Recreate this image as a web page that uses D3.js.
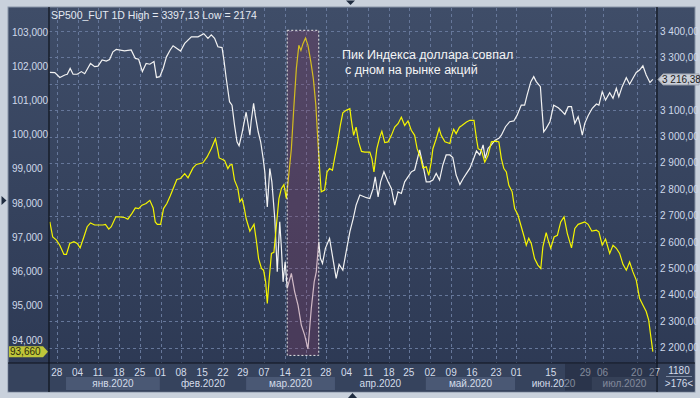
<!DOCTYPE html>
<html>
<head>
<meta charset="utf-8">
<script src="https://cdn.jsdelivr.net/npm/d3@7"></script>
<style>
html, body { margin: 0; padding: 0; background: #c9d1dc; }
svg { display: block; font-family: "Liberation Sans", Arial, sans-serif; }
</style>
</head>
<body>
<svg id="chart" width="700" height="398"></svg>
<script>
// ---- data (x = session index on the bar axis) ----
const spxBars = [0.2,1.4,2.6,3.8,4.4,5.1,5.8,6.8,7.8,8.6,10.0,11.0,11.8,12.8,13.8,14.6,15.4,16.2,18.2,19.8,20.8,21.6,22.5,23.4,24.3,25.3,25.9,26.7,27.5,28.3,29.2,29.9,31.7,32.7,34.3,35.9,37.3,38.3,39.1,39.9,40.7,41.7,42.2,42.7,43.5,44.1,44.7,45.3,45.8,46.5,47.5,48.4,48.7,49.3,49.7,50.4,51.0,51.6,52.0,52.6,53.2,53.7,54.4,55.0,55.6,56.0,56.4,56.9,57.4,58.4,59.2,60.0,60.8,61.6,62.4,63.2,63.9,64.4,65.0,65.4,65.9,66.6,67.6,68.4,69.2,69.9,70.8,71.6,72.5,73.3,74.0,74.9,76.5,77.3,78.1,78.6,79.3,79.9,80.7,81.7,82.5,83.3,84.1,84.9,85.7,86.5,87.3,88.1,89.3,90.1,90.9,91.7,92.5,93.3,94.1,94.9,95.7,96.6,97.3,98.1,99.0,99.8,100.6,101.4,102.2,103.0,103.8,104.6,105.1,105.8,106.6,107.5,108.4,109.0,110.0,111.0,112.0,112.8,113.8,114.6,115.2,116.1,116.8,117.4,118.4,118.8,119.2,119.8,120.7,121.6,122.7,123.4,124.3,125.1,125.9,126.7,127.5,128.0,128.5,129.1,129.9,130.9,131.9,132.5,133.3,134.1,135.1,135.9,136.7,137.3,138.1,139.1,139.9,140.7,141.5,142.3,143.1,143.9,144.8,145.5];
const spxVals = [3243,3242,3224,3233,3236,3258,3236,3236,3246,3238,3277,3265,3267,3290,3286,3292,3321,3330,3325,3328,3296,3293,3246,3277,3274,3284,3224,3227,3258,3302,3328,3344,3324,3353,3378,3378,3390,3372,3385,3372,3340,3337,3284,3221,3132,3119,3043,2980,2965,3012,3092,3005,3056,3126,3081,3018,2980,2917,2866,2733,2879,2828,2689,2487,2677,2576,2449,2525,2424,2481,2411,2361,2285,2247,2195,2348,2449,2487,2601,2538,2519,2576,2614,2538,2462,2515,2493,2563,2639,2689,2740,2778,2768,2765,2803,2847,2771,2828,2866,2828,2803,2740,2790,2784,2828,2847,2866,2873,2949,2892,2828,2828,2835,2860,2835,2892,2930,2930,2920,2854,2818,2841,2860,2879,2911,2945,2930,2968,2917,2955,2968,2986,2993,3005,3037,3056,3059,3081,3119,3119,3157,3208,3227,3208,3189,3100,3018,3031,3056,3119,3109,3099,3084,3113,3113,3050,3075,3043,3005,3050,3079,3107,3123,3119,3170,3138,3166,3145,3183,3151,3189,3223,3198,3221,3243,3252,3268,3233,3205,3216.38];

const dxyBars = [0.2,0.9,1.8,2.6,3.6,4.2,5.0,6.0,6.8,7.5,8.4,9.2,10.0,11.0,13.0,13.6,14.4,15.0,16.1,17.0,18.2,19.0,20.0,20.8,21.6,22.4,23.4,24.3,25.1,25.6,26.1,26.9,27.6,28.4,29.2,30.8,31.7,32.7,33.5,34.7,35.5,37.1,38.1,39.1,40.1,40.6,41.0,42.3,43.1,43.6,44.1,44.7,45.5,46.0,46.5,47.0,47.5,48.4,48.9,49.4,50.0,50.5,51.2,51.7,52.2,52.6,53.0,53.6,54.2,54.8,55.4,56.0,56.6,57.2,58.4,59.0,59.6,60.2,60.7,61.2,61.8,62.4,63.1,63.7,64.3,64.8,65.2,65.6,66.4,67.0,67.6,68.3,68.8,69.5,70.2,70.8,71.6,72.5,72.8,73.4,74.0,74.6,75.3,76.1,77.3,77.8,78.3,78.6,79.0,79.7,80.2,80.9,81.7,82.5,83.3,84.1,84.9,85.7,86.5,87.3,88.1,88.7,89.6,90.1,90.9,91.5,92.1,92.5,93.3,94.0,94.5,95.4,96.6,96.9,97.5,98.1,98.9,99.5,100.6,101.4,102.4,103.0,103.4,104.2,105.0,105.8,106.6,107.8,108.4,109.0,109.6,110.2,110.8,111.6,112.2,113.0,113.8,114.5,115.0,115.6,116.2,117.0,117.8,118.5,119.0,119.8,120.4,120.9,121.7,122.5,123.3,124.1,124.9,125.9,126.7,127.5,129.1,129.9,130.8,131.9,132.5,133.3,134.1,135.1,135.9,136.7,137.5,138.3,139.1,139.9,140.7,141.5,142.3,143.1,143.9,144.5,144.9,145.5];
const dxyVals = [97.45,97.01,96.92,96.77,96.50,96.50,96.82,96.87,96.82,96.69,97.01,97.31,97.42,97.36,97.36,97.38,97.24,97.31,97.60,97.60,97.58,97.53,97.70,97.86,97.84,97.94,97.99,98.08,97.86,97.45,97.38,97.38,97.84,97.99,98.21,98.69,98.72,98.86,98.74,99.03,99.13,99.18,99.35,99.59,99.88,99.59,99.32,99.25,99.01,99.11,99.13,98.67,98.43,98.04,98.13,97.89,97.55,97.18,97.28,97.38,96.87,96.38,96.09,96.04,95.70,95.07,95.70,96.53,96.56,97.36,98.13,98.43,98.54,98.13,99.59,100.81,101.93,102.61,102.46,102.66,102.82,102.61,102.12,101.63,100.86,99.79,99.01,98.33,98.38,98.91,99.01,98.96,99.30,99.74,100.27,100.64,100.71,100.76,100.47,99.98,100.22,99.79,99.51,99.49,99.49,99.30,98.91,99.20,99.59,99.93,100.10,99.77,99.79,99.98,100.22,100.32,100.51,100.27,100.40,100.13,99.98,99.59,99.30,99.03,99.06,98.81,99.20,99.59,99.88,100.18,99.98,99.79,99.74,99.93,100.16,100.03,100.22,100.27,100.37,100.42,100.42,99.88,99.59,99.54,99.20,99.40,99.79,99.81,99.79,99.30,99.01,98.91,98.52,98.33,97.84,97.65,97.31,97.01,96.77,96.97,96.82,96.38,96.19,96.09,96.72,97.14,96.87,96.68,97.01,97.06,97.45,97.60,97.11,96.69,97.26,97.38,97.45,97.38,97.18,97.21,97.16,96.77,96.95,96.53,96.77,96.68,96.53,96.21,96.04,96.28,95.99,95.75,95.22,95.02,94.83,94.58,94.20,93.66];

const dayLabels = ["28","04","11","18","25","01","08","15","22","29","07","14","21","28","04","11","18","25","02","09","16","23","01","15","29","06","20","27"];
const dayBars   = [1.9,6.9,11.8,16.9,21.9,26.9,31.8,36.9,41.9,46.7,51.8,56.9,61.9,66.7,71.7,76.9,81.9,86.7,91.8,96.9,101.9,107.7,112.6,120.9,129.2,133.4,141.6,145.9];

const monthLabels = ["янв.2020","фев.2020","мар.2020","апр.2020","май.2020","июн.2020","июл.2020"];
const monthStart  = [4.1,26.7,47.5,68.9,90.8,112.3,130.8];
const monthEnd    = [26.7,47.5,68.9,90.8,112.3,130.8,146.5];

const leftTicks  = [94,95,96,97,98,99,100,101,102,103];
const rightTicks = [2200,2300,2400,2500,2600,2700,2800,2900,3000,3100,3200,3300,3400];

const peakBars = [57.4, 65.0];        // highlighted window on the bar axis
const peakRange = [93.55, 103.05];    // in DXY units
const lastSpx = 3216.38, lastDxy = 93.66;

// ---- layout ----
const svg = d3.select("#chart");
const plotL = 49, plotR = 657, plotT = 8, plotB = 363;
const panel = {x: 8, y: 7, w: 687, h: 385};

const ru = d3.formatLocale({decimal: ",", thousands: "\u00a0", grouping: [3], currency: ["", ""]});
const fmtL = ru.format(".3f");
const fmtR = ru.format(",.2f");

const x = d3.scaleLinear().domain([0, 146.5]).range([plotL, plotR]);
const yL = d3.scaleLinear().domain([94, 103]).range([340, 32]);
const yR = d3.scaleLinear().domain([2200, 3400]).range([347.5, 31]);

const defs = svg.append("defs");
const grad = defs.append("linearGradient").attr("id", "bg").attr("x1", 0).attr("y1", 0).attr("x2", 0).attr("y2", 1);
grad.append("stop").attr("offset", "0%").attr("stop-color", "#3f4d68");
grad.append("stop").attr("offset", "100%").attr("stop-color", "#2c3853");
defs.append("clipPath").attr("id", "clip").append("rect")
  .attr("x", plotL).attr("y", plotT).attr("width", plotR - plotL).attr("height", plotB - plotT);

// panel
svg.append("rect").attr("x", panel.x).attr("y", panel.y).attr("width", panel.w).attr("height", panel.h)
  .attr("fill", "url(#bg)").attr("stroke", "#8a96a8").attr("stroke-width", 1);

// bottom axis strip
svg.append("rect").attr("x", panel.x + 0.5).attr("y", plotB).attr("width", panel.w - 1).attr("height", panel.y + panel.h - plotB - 0.5)
  .attr("fill", "#36435d");

// month bands (alternate)
svg.append("g").selectAll("rect").data(monthLabels).join("rect")
  .attr("x", (d, i) => x(monthStart[i])).attr("y", 377)
  .attr("width", (d, i) => x(monthEnd[i]) - x(monthStart[i])).attr("height", 13)
  .attr("fill", (d, i) => i % 2 === 0 ? "#4a5874" : "none");

// grid
const grid = svg.append("g").attr("stroke", "#66779a").attr("stroke-width", 1).attr("stroke-dasharray", "3,3");
grid.selectAll("line.h").data(rightTicks).join("line")
  .attr("x1", plotL).attr("x2", plotR)
  .attr("y1", d => Math.round(yR(d)) + 0.5).attr("y2", d => Math.round(yR(d)) + 0.5);
grid.selectAll("line.v").data(dayBars).join("line")
  .attr("y1", plotT).attr("y2", plotB)
  .attr("x1", d => Math.round(x(d)) + 0.5).attr("x2", d => Math.round(x(d)) + 0.5);

// title
svg.append("text").attr("x", 51).attr("y", 19).attr("fill", "#e4e9f2").attr("font-size", 10.5)
  .text("SP500_FUT 1D High = 3397,13 Low = 2174");

// lines
const spx = d3.zip(spxBars, spxVals);
const dxy = d3.zip(dxyBars, dxyVals);
const lines = svg.append("g").attr("clip-path", "url(#clip)").attr("fill", "none").attr("stroke-width", 1.2)
  .attr("stroke-linejoin", "miter");
lines.append("path").attr("stroke", "#f2f2f2")
  .attr("d", d3.line().x(d => x(d[0])).y(d => yR(d[1]))(spx));
lines.append("path").attr("stroke", "#f5f500")
  .attr("d", d3.line().x(d => x(d[0])).y(d => yL(d[1]))(dxy));

// highlighted window
svg.append("rect")
  .attr("x", x(peakBars[0])).attr("width", x(peakBars[1]) - x(peakBars[0]))
  .attr("y", yL(peakRange[1])).attr("height", yL(peakRange[0]) - yL(peakRange[1]))
  .attr("fill", "rgb(135,58,100)").attr("fill-opacity", 0.3)
  .attr("stroke", "#e8e8e8").attr("stroke-width", 1).attr("stroke-dasharray", "2,2");

// annotation
const note = svg.append("text").attr("fill", "#f4f4f4").attr("font-size", 12.5);
note.append("tspan").attr("x", 342).attr("y", 59).text("Пик Индекса доллара совпал");
note.append("tspan").attr("x", 345).attr("y", 74).text("с дном на рынке акций");

// dividers
const div = svg.append("g").attr("stroke", "#0e131c").attr("stroke-width", 1.2);
div.append("line").attr("x1", plotL).attr("x2", plotL).attr("y1", panel.y).attr("y2", panel.y + panel.h);
div.append("line").attr("x1", plotR).attr("x2", plotR).attr("y1", panel.y).attr("y2", panel.y + panel.h);
div.append("line").attr("x1", panel.x).attr("x2", panel.x + panel.w).attr("y1", plotB).attr("y2", plotB);

// left axis labels
svg.append("g").selectAll("text").data(leftTicks).join("text")
  .attr("x", 12).attr("y", d => yL(d)).attr("dy", "0.35em")
  .attr("fill", "#cfd9ea").attr("font-size", 10).text(d => fmtL(d));

// right axis labels (the one under the last-value tag is covered, as in the terminal)
const ry = yR(lastSpx);
svg.append("g").selectAll("text").data(rightTicks.filter(d => Math.abs(yR(d) - ry) > 9)).join("text")
  .attr("x", 660).attr("y", d => yR(d)).attr("dy", "0.35em")
  .attr("fill", "#cfd9ea").attr("font-size", 10).text(d => fmtR(d));

// bottom tick labels
svg.append("g").selectAll("text").data(dayLabels).join("text")
  .attr("x", (d, i) => x(dayBars[i])).attr("y", 372).attr("dy", "0.35em")
  .attr("text-anchor", "middle").attr("fill", "#d4dcea").attr("font-size", 10).text(d => d);
svg.append("g").selectAll("text").data(monthLabels).join("text")
  .attr("x", (d, i) => (x(monthStart[i]) + x(monthEnd[i])) / 2).attr("y", 383.5).attr("dy", "0.35em")
  .attr("text-anchor", "middle").attr("fill", "#d4dcea").attr("font-size", 10).text(d => d);

// darker shading on the right of the time axis
svg.append("rect").attr("x", 565).attr("y", plotB + 0.6).attr("width", plotR - 565).attr("height", 27)
  .attr("fill", "#1c2436").attr("fill-opacity", 0.45);

// bottom-right cell
svg.append("text").attr("x", 679).attr("y", 370).attr("dy", "0.35em").attr("text-anchor", "middle")
  .attr("fill", "#d4dcea").attr("font-size", 10).text("1180");
svg.append("line").attr("x1", 666).attr("x2", 692).attr("y1", 376.5).attr("y2", 376.5).attr("stroke", "#7f8ca3");
svg.append("text").attr("x", 679).attr("y", 383.5).attr("dy", "0.35em").attr("text-anchor", "middle")
  .attr("fill", "#d4dcea").attr("font-size", 10).text(">176<");

// last value tags
svg.append("path")
  .attr("d", `M658,${ry} L663,${ry - 5.5} L699,${ry - 5.5} L699,${ry + 5.5} L663,${ry + 5.5} Z`)
  .attr("fill", "#c9ced8").attr("stroke", "#9aa2b0");
svg.append("text").attr("x", 662).attr("y", ry).attr("dy", "0.35em").attr("fill", "#1c1c1c")
  .attr("font-size", 10).text(fmtR(lastSpx));

const ly = yL(lastDxy);
svg.append("path")
  .attr("d", `M9,${ly - 5.5} L43,${ly - 5.5} L48,${ly} L43,${ly + 5.5} L9,${ly + 5.5} Z`)
  .attr("fill", "#bfc63a");
svg.append("text").attr("x", 10).attr("y", ly).attr("dy", "0.35em").attr("fill", "#2a2a0c")
  .attr("font-size", 10).text(fmtL(lastDxy));

// small scroll markers
svg.append("path").attr("d", "M1.5,196 L6.5,200.5 L1.5,205 Z").attr("fill", "#1f2c40");
svg.append("path").attr("d", "M346,0.5 L355,0.5 L350.5,5 Z").attr("fill", "#1f2c40");
svg.append("path").attr("d", "M348,398 L357,398 L352.5,393 Z").attr("fill", "#1f2c40");
</script>
</body>
</html>
